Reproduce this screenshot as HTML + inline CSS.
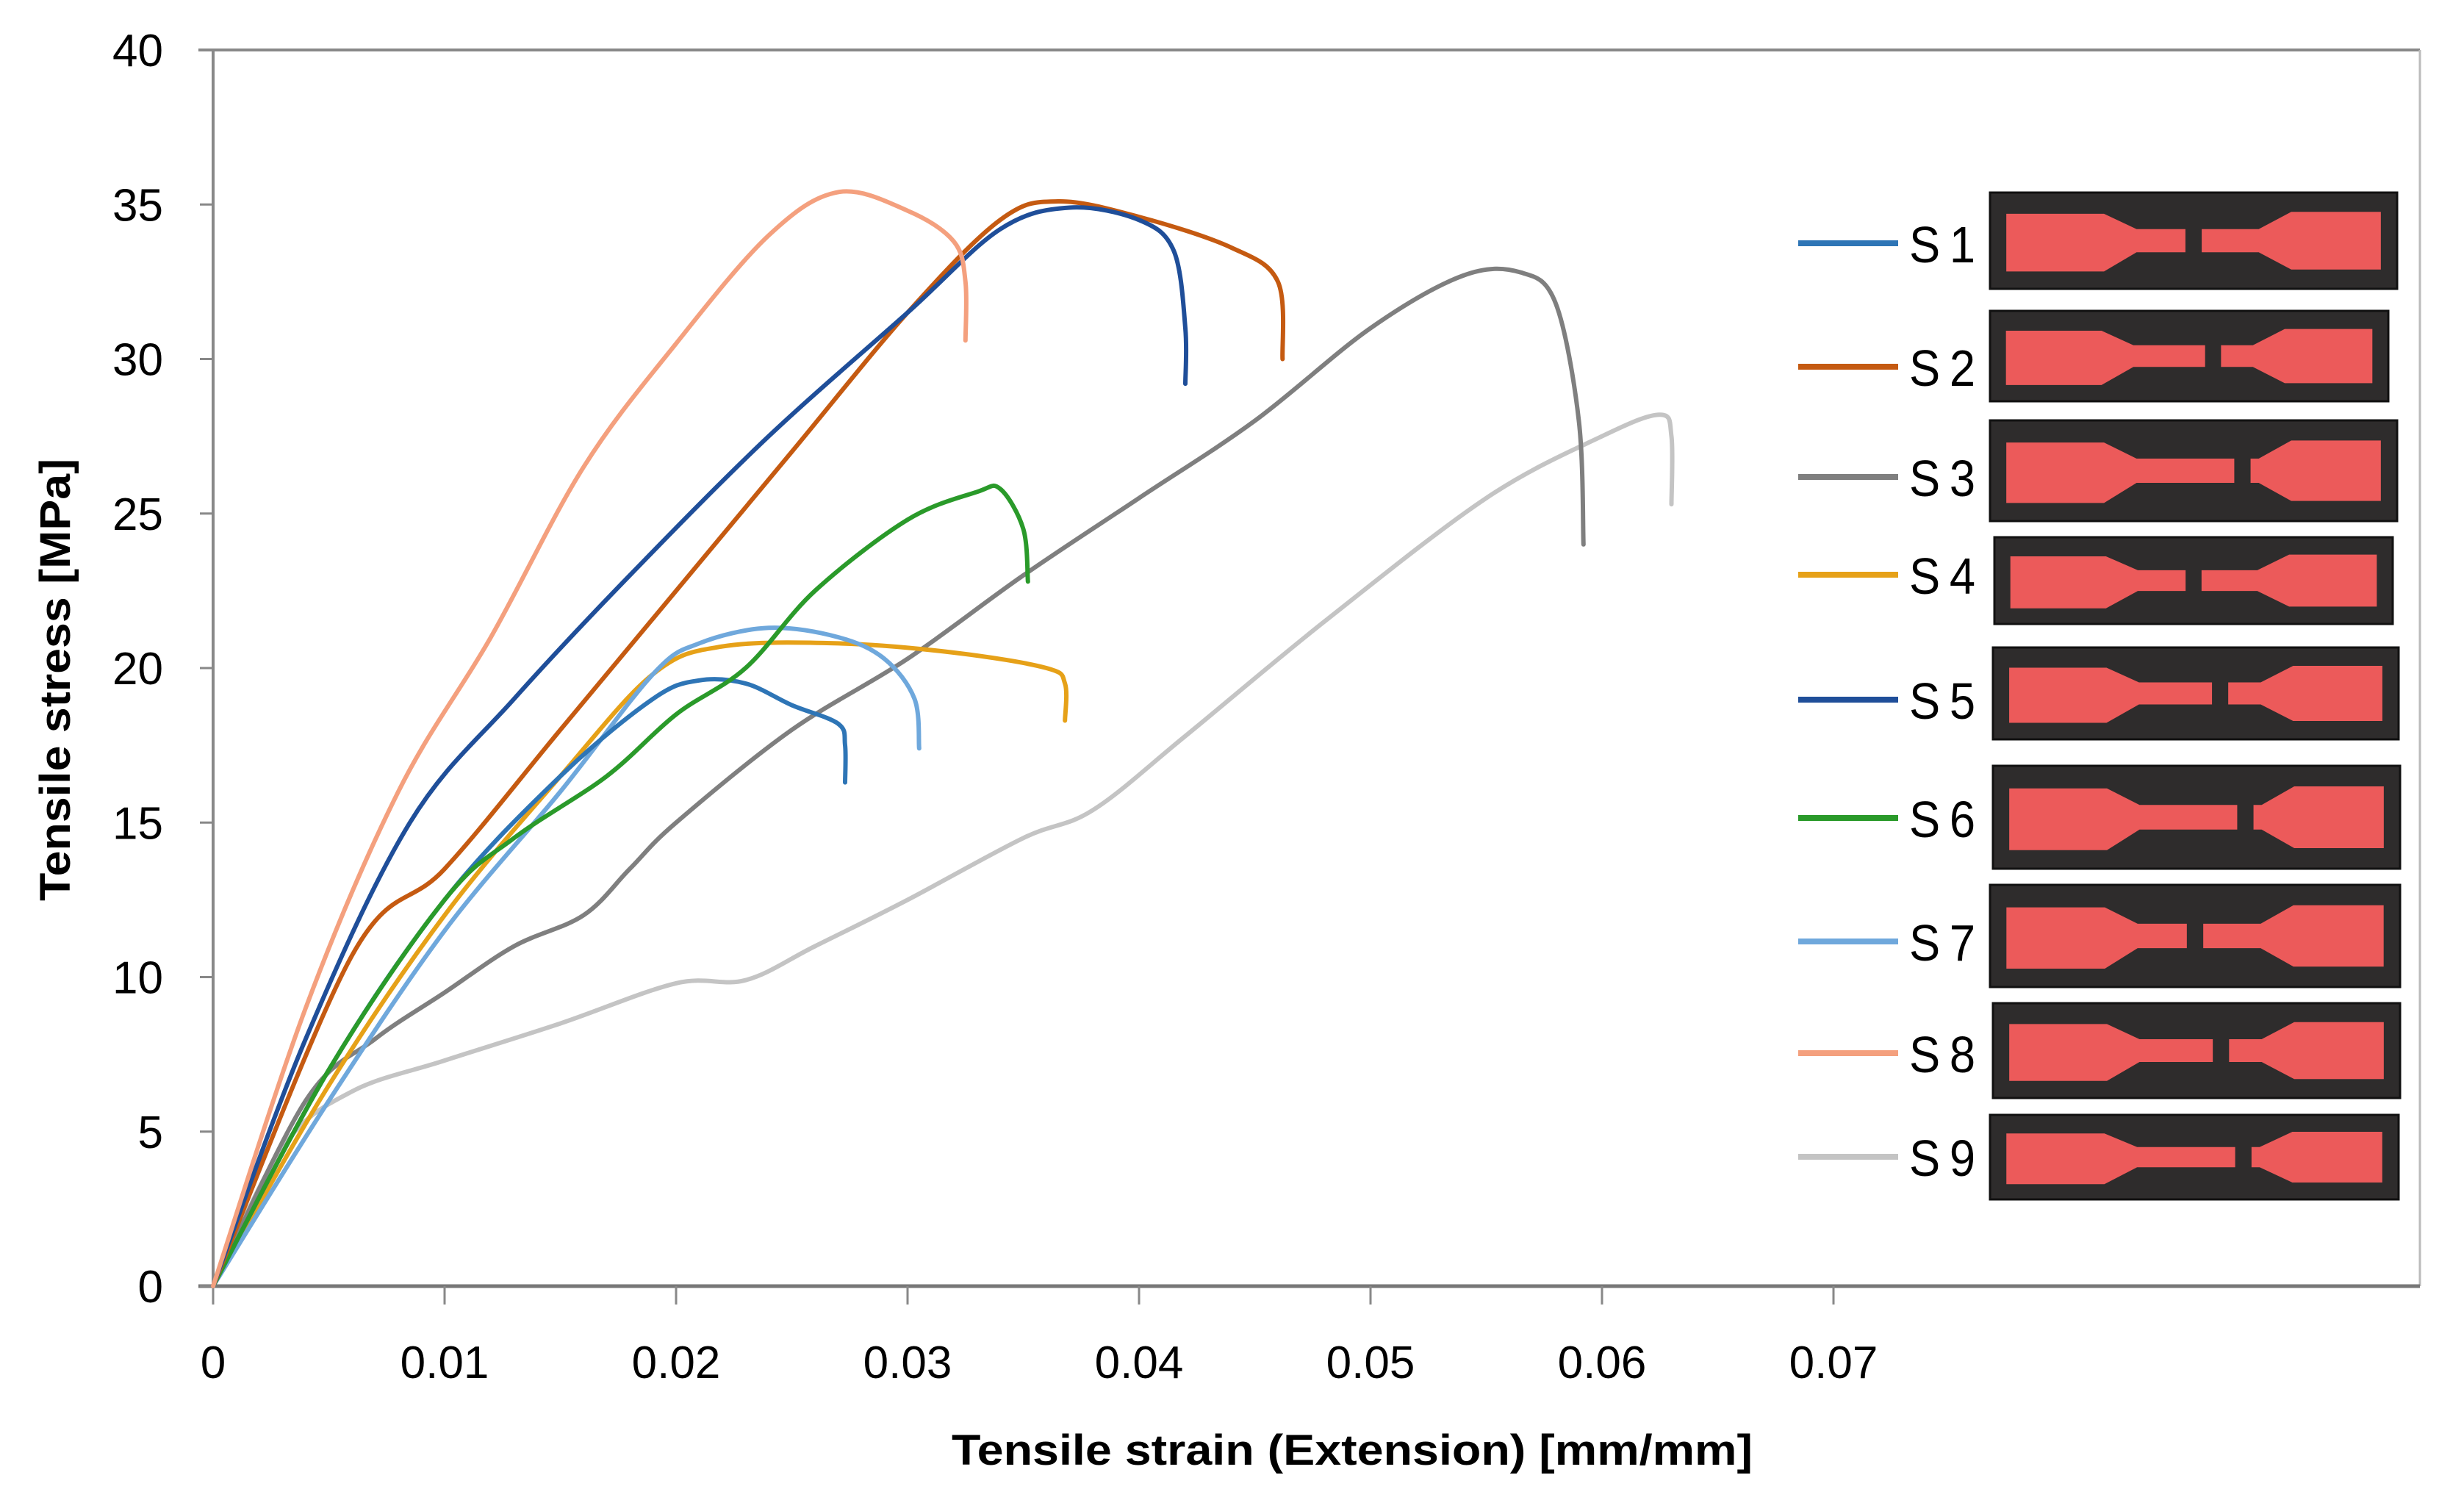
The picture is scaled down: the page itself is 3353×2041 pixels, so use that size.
<!DOCTYPE html>
<html><head><meta charset="utf-8">
<style>
html,body{margin:0;padding:0;background:#fff;}
svg{display:block;}
text{font-family:"Liberation Sans Narrow","Liberation Sans",sans-serif;fill:#000;}
</style></head>
<body>
<svg id="chart" width="3353" height="2041" viewBox="0 0 3353 2041" xmlns="http://www.w3.org/2000/svg">
<rect x="0" y="0" width="3353" height="2041" fill="#fff"/>
<g id="frame"></g>
<g id="ticks"></g>
<g id="series"></g>
<g id="legend"></g>
<text x="1840" y="1993" font-size="58" font-weight="bold" text-anchor="middle" textLength="1090" lengthAdjust="spacingAndGlyphs">Tensile strain (Extension) [mm/mm]</text>
<text x="0" y="0" font-size="58" font-weight="bold" text-anchor="middle" textLength="602" lengthAdjust="spacingAndGlyphs" transform="translate(95,925) rotate(-90)">Tensile stress [MPa]</text>
</svg>
<script>
const xTicks = [0, 0.01, 0.02, 0.03, 0.04, 0.05, 0.06, 0.07];
const xTickLabels = ["0", "0.01", "0.02", "0.03", "0.04", "0.05", "0.06", "0.07"];
const yTicks = [0, 5, 10, 15, 20, 25, 30, 35, 40];
const yTickLabels = ["0", "5", "10", "15", "20", "25", "30", "35", "40"];
const seriesNames = ["S1","S2","S3","S4","S5","S6","S7","S8","S9"];
const seriesColors = ["#2e75b6","#c55a11","#7f7f7f","#e6a118","#1f4e99","#2a9a2a","#6fa8dc","#f4a07e","#c4c4c4"];

const s1x = [0,0.005,0.01,0.015,0.019,0.021,0.023,0.025,0.027,0.0273,0.0273];
const s1y = [0,7,12.5,16.5,19,19.6,19.5,18.8,18.2,17.5,16.3];
const s2x = [0,0.006,0.01,0.015,0.02,0.025,0.03,0.034,0.0365,0.04,0.044,0.046,0.0462];
const s2y = [0,10.7,13.5,18,22.5,27,31.5,34.5,35.1,34.6,33.6,32.5,30];
const s3x = [0,0.004,0.007,0.01,0.013,0.016,0.018,0.02,0.025,0.03,0.035,0.04,0.045,0.05,0.054,0.0565,0.058,0.059,0.0592];
const s3y = [0,6,8,9.5,11,12,13.5,15,18,20.3,23,25.5,28,31,32.7,32.8,31.8,28,24];
const s4x = [0,0.005,0.01,0.015,0.019,0.022,0.027,0.032,0.036,0.0368,0.0368];
const s4y = [0,6.5,12,16.5,19.8,20.7,20.8,20.5,20,19.5,18.3];
const s5x = [0,0.004,0.0085,0.013,0.018,0.024,0.03,0.034,0.037,0.04,0.0415,0.042,0.042];
const s5y = [0,8,15,19,23,27.5,31.5,34.2,34.9,34.5,33.5,31,29.2];
const s6x = [0,0.005,0.01,0.013,0.017,0.02,0.023,0.026,0.03,0.033,0.034,0.035,0.0352];
const s6y = [0,7,12.5,14.5,16.5,18.5,20,22.5,24.8,25.7,25.8,24.5,22.8];
const s7x = [0,0.005,0.01,0.015,0.019,0.021,0.024,0.027,0.029,0.0303,0.0305];
const s7y = [0,6,11.5,16,19.8,20.8,21.3,21,20.3,19,17.4];
const s8x = [0,0.004,0.008,0.012,0.016,0.02,0.024,0.027,0.03,0.032,0.0325,0.0325];
const s8y = [0,9,16,21,26.5,30.5,34,35.4,34.8,33.8,32.5,30.6];
const s9x = [0,0.003,0.006,0.01,0.015,0.02,0.023,0.026,0.03,0.035,0.038,0.042,0.048,0.055,0.06,0.0625,0.063,0.063];
const s9y = [0,4.5,6.3,7.3,8.5,9.8,9.9,11,12.5,14.5,15.4,17.8,21.5,25.5,27.5,28.2,27.5,25.3];

const seriesX = [s1x,s2x,s3x,s4x,s5x,s6x,s7x,s8x,s9x];
const seriesY = [s1y,s2y,s3y,s4y,s5y,s6y,s7y,s8y,s9y];
const drawOrder = [8,2,3,6,0,5,1,4,7];

const NS = "http://www.w3.org/2000/svg";
const X0 = 290, XPER = 31500;
const Y0 = 1750, Y40 = 68;
function sx(v){ return X0 + v*XPER; }
function sy(v){ return Y0 - v*(Y0-Y40)/40; }
function mk(tag, attrs, parent){
  const e = document.createElementNS(NS, tag);
  for (const k in attrs) e.setAttribute(k, attrs[k]);
  parent.appendChild(e);
  return e;
}
function smoothPath(pts){
  let d = 'M' + pts[0][0].toFixed(1) + ',' + pts[0][1].toFixed(1);
  for (let i = 0; i < pts.length-1; i++){
    const p0 = pts[i-1] || pts[i], p1 = pts[i], p2 = pts[i+1], p3 = pts[i+2] || p2;
    const c1 = [p1[0]+(p2[0]-p0[0])/6, p1[1]+(p2[1]-p0[1])/6];
    const c2 = [p2[0]-(p3[0]-p1[0])/6, p2[1]-(p3[1]-p1[1])/6];
    d += ' C' + c1[0].toFixed(1)+','+c1[1].toFixed(1)+' '+c2[0].toFixed(1)+','+c2[1].toFixed(1)+' '+p2[0].toFixed(1)+','+p2[1].toFixed(1);
  }
  return d;
}
const frame = document.getElementById('frame');
const RIGHT = 3293;
let ln = mk('line',{x1:X0-20,y1:Y40,x2:RIGHT,y2:Y40,stroke:'#888','stroke-width':4},frame);


ln = mk('line',{x1:RIGHT,y1:Y40,x2:RIGHT,y2:Y0,stroke:'#bbb','stroke-width':3},frame);


ln = mk('line',{x1:X0,y1:Y40,x2:X0,y2:Y0,stroke:'#888','stroke-width':4},frame);


ln = mk('line',{x1:X0-20,y1:Y0,x2:RIGHT,y2:Y0,stroke:'#777','stroke-width':5},frame);



const ticks = document.getElementById('ticks');
xTicks.forEach((v,i)=>{
  const t = mk('line',{x1:sx(v),y1:Y0,x2:sx(v),y2:Y0+25,stroke:'#888','stroke-width':3},ticks);
  
  
  const l = mk('text',{x:sx(v),y:Y0+125,'font-size':62,'text-anchor':'middle'},ticks);
  l.textContent = xTickLabels[i];
  
  
});
yTicks.forEach((v,i)=>{
  const t = mk('line',{x1:X0-18,y1:sy(v),x2:X0,y2:sy(v),stroke:'#888','stroke-width':3},ticks);
  
  
  const l = mk('text',{x:X0-68,y:sy(v)+22,'font-size':62,'text-anchor':'end'},ticks);
  l.textContent = yTickLabels[i];
  
  
});

const sg = document.getElementById('series');
drawOrder.forEach(i=>{
  const pts = seriesX[i].map((x,j)=>[sx(x), sy(seriesY[i][j])]);
  const p = mk('path',{d:smoothPath(pts),fill:'none',stroke:seriesColors[i],'stroke-width':6,'stroke-linejoin':'round','stroke-linecap':'round'},sg);
  
  
});

const legendY = [331,499,649,782,952,1113,1281,1433,1574];
const boxes = [[2708,262,3262,393],[2708,423,3250,546],[2708,572,3262,709],[2714,731,3256,849],[2712,881,3264,1006],[2712,1042,3266,1182],[2708,1204,3266,1343],[2712,1365,3266,1494],[2708,1517,3264,1632]];
const lg = document.getElementById('legend');
seriesNames.forEach((n,i)=>{
  const y = legendY[i];
  const l = mk('line',{x1:2447,y1:y,x2:2583,y2:y,stroke:seriesColors[i],'stroke-width':8},lg);
  
  
  const t = mk('text',{x:2598,y:y+26,'font-size':70,textLength:90,lengthAdjust:'spacingAndGlyphs'},lg);
  t.textContent = n.replace('S','S\u2009');
  
  
  const b = boxes[i];
  const g = mk('g',{},lg);
  
  
  mk('rect',{x:b[0],y:b[1],width:b[2]-b[0],height:b[3]-b[1],fill:'#2e2c2c',stroke:'#111','stroke-width':3},g);
  const w = b[2]-b[0], h = b[3]-b[1];
  const x = b[0], yy = b[1];
  const gx = x + w*0.48 + (i%3)*w*0.06;
  const d = `M${x+w*0.04},${yy+h*0.22} L${x+w*0.28},${yy+h*0.22} L${x+w*0.36},${yy+h*0.38} L${gx},${yy+h*0.38} L${gx},${yy+h*0.62} L${x+w*0.36},${yy+h*0.62} L${x+w*0.28},${yy+h*0.82} L${x+w*0.04},${yy+h*0.82} Z
  M${gx+w*0.04},${yy+h*0.38} L${x+w*0.66},${yy+h*0.38} L${x+w*0.74},${yy+h*0.2} L${x+w*0.96},${yy+h*0.2} L${x+w*0.96},${yy+h*0.8} L${x+w*0.74},${yy+h*0.8} L${x+w*0.66},${yy+h*0.62} L${gx+w*0.04},${yy+h*0.62} Z`;
  mk('path',{d:d,fill:'#ec5a5a'},g);
});
</script>
</body></html>
